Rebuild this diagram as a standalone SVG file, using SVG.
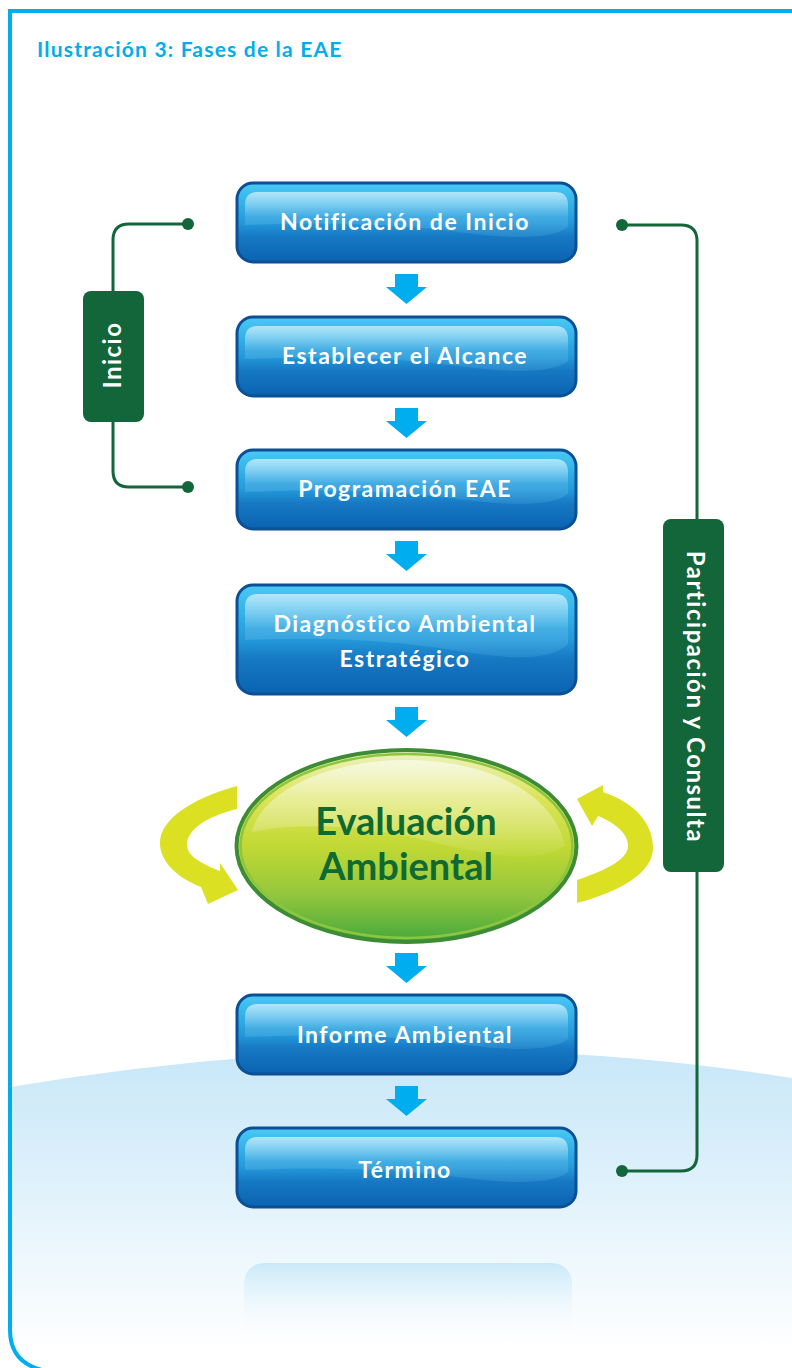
<svg xmlns="http://www.w3.org/2000/svg" xmlns:xlink="http://www.w3.org/1999/xlink" width="792" height="1368" viewBox="0 0 792 1368">
  <defs>
    <style>
      .title { font-family: Lato, "Open Sans", "Liberation Sans", sans-serif; font-weight: 700; font-size: 21px; letter-spacing: 1.2px; fill: #00aeef; }
      .btn-label { font-family: Lato, "Open Sans", "Liberation Sans", sans-serif; font-weight: 700; font-size: 23px; letter-spacing: 1.5px; fill: #ffffff; text-anchor: middle; }
      .side-label { font-family: Lato, "Open Sans", "Liberation Sans", sans-serif; font-weight: 700; font-size: 24px; letter-spacing: 1.5px; fill: #ffffff; text-anchor: middle; }
      .eval-label { font-family: Lato, "Open Sans", "Liberation Sans", sans-serif; font-weight: 700; font-size: 38px; fill: #0e6a32; text-anchor: middle; }
      .bracket { fill: none; stroke: #12663a; stroke-width: 3; }
      .bracket-dot { fill: #12663a; }
      .bracket-box { fill: #12663a; }
      .step-arrow { fill: #00aeef; }
      .cycle-arrow { fill: #dbe022; }
      .frame { fill: none; stroke: #00aeef; stroke-width: 4; }
    </style>
    <linearGradient id="groundFill" x1="0" y1="1050" x2="0" y2="1350" gradientUnits="userSpaceOnUse">
      <stop offset="0" stop-color="#c8e7f8"/>
      <stop offset="0.45" stop-color="#dff1fb"/>
      <stop offset="1" stop-color="#ffffff"/>
    </linearGradient>
    <linearGradient id="reflectFill" x1="0" y1="0" x2="0" y2="1">
      <stop offset="0" stop-color="#c9e9f8"/>
      <stop offset="1" stop-color="#ffffff" stop-opacity="0"/>
    </linearGradient>
    <linearGradient id="btnFill" x1="0" y1="0" x2="0" y2="1">
      <stop offset="0" stop-color="#4cc9f4"/>
      <stop offset="0.15" stop-color="#3bbcef"/>
      <stop offset="0.5" stop-color="#2399da"/>
      <stop offset="0.68" stop-color="#1678c3"/>
      <stop offset="1" stop-color="#0a63b0"/>
    </linearGradient>
    <linearGradient id="btnGloss" x1="0" y1="0" x2="0" y2="1">
      <stop offset="0" stop-color="#ffffff" stop-opacity="0.6"/>
      <stop offset="0.55" stop-color="#ffffff" stop-opacity="0.12"/>
      <stop offset="1" stop-color="#7fd6f7" stop-opacity="0.15"/>
    </linearGradient>
    <linearGradient id="evalFill" x1="0" y1="0" x2="0" y2="1">
      <stop offset="0" stop-color="#eef2c4"/>
      <stop offset="0.25" stop-color="#dbe45a"/>
      <stop offset="0.5" stop-color="#c2d934"/>
      <stop offset="0.75" stop-color="#94c73c"/>
      <stop offset="1" stop-color="#45a83d"/>
    </linearGradient>
    <linearGradient id="evalGloss" x1="0" y1="0" x2="0" y2="1">
      <stop offset="0" stop-color="#ffffff" stop-opacity="0.6"/>
      <stop offset="1" stop-color="#ffffff" stop-opacity="0.05"/>
    </linearGradient>

    <!-- standard 339x79 glossy button -->
    <g id="btn">
      <rect x="0" y="0" width="339" height="79" rx="16" fill="url(#btnFill)" stroke="#0b4f94" stroke-width="3"/>
      <path d="M8 42 L8 22 Q8 9 21 9 L318 9 Q331 9 331 22 L331 44 C315 56 280 56 230 50 C170 42 100 38 8 42 Z" fill="url(#btnGloss)"/>
    </g>

    <!-- downward step arrow, 41 wide x 30 tall -->
    <path id="stepArrow" d="M9 0 L32 0 L32 13 L41 13 L20.5 30 L0 13 L9 13 Z"/>
  </defs>

  <!-- pale ground at the bottom -->
  <path d="M10 1087 Q420 1018 792 1078 L792 1368 L10 1368 Z" fill="url(#groundFill)"/>
  <rect x="244" y="1263" width="328" height="78" rx="20" fill="url(#reflectFill)"/>

  <!-- outer frame -->
  <path class="frame" d="M792 11 L10 11 L10 1330 Q10 1362 42 1370"/>

  <text class="title" x="37" y="57">Ilustración 3: Fases de la EAE</text>

  <!-- connectors: step arrows and side brackets -->
  <g id="connectors">
    <use xlink:href="#stepArrow" class="step-arrow" x="386" y="274"/>
    <use xlink:href="#stepArrow" class="step-arrow" x="386" y="408"/>
    <use xlink:href="#stepArrow" class="step-arrow" x="386" y="541"/>
    <use xlink:href="#stepArrow" class="step-arrow" x="386" y="707"/>
    <use xlink:href="#stepArrow" class="step-arrow" x="386" y="953"/>
    <use xlink:href="#stepArrow" class="step-arrow" x="386" y="1086"/>

    <!-- Inicio bracket -->
    <path class="bracket" d="M188 224 L129 224 Q113 224 113 240 L113 292"/>
    <path class="bracket" d="M113 421 L113 471 Q113 487 129 487 L188 487"/>
    <circle class="bracket-dot" cx="188" cy="224" r="6"/>
    <circle class="bracket-dot" cx="188" cy="487" r="6"/>

    <!-- Participación y Consulta bracket -->
    <path class="bracket" d="M622 225 L681 225 Q697 225 697 241 L697 520"/>
    <path class="bracket" d="M697 871 L697 1155 Q697 1171 681 1171 L622 1171"/>
    <circle class="bracket-dot" cx="622" cy="225" r="6"/>
    <circle class="bracket-dot" cx="622" cy="1171" r="6"/>

    <!-- cycle arrows around the evaluation stage -->
    <path class="cycle-arrow" d="M237 786 C190 799 160 820 160 843 C160 862 178 878 201 887 L208 904 L238 890 L220 863 L220 871 C202 864 187 856 187 845 C187 830 205 817 237 809 Z"/>
    <path class="cycle-arrow" d="M577 880 C610 869 628 858 628 846 C628 833 615 823 598 816 L592 826 L577 799 L603 785 L603 792 C635 803 653 823 653 848 C653 872 622 891 577 903 Z"/>
  </g>

  <!-- side labels -->
  <g id="inicio">
    <rect class="bracket-box" x="83" y="291" width="61" height="131" rx="8"/>
    <text class="side-label" x="114" y="364" transform="rotate(-90 113 356)">Inicio</text>
  </g>
  <g id="participacion">
    <rect class="bracket-box" x="663" y="519" width="61" height="353" rx="8"/>
    <text class="side-label" x="696" y="704" transform="rotate(90 695 696)">Participación y Consulta</text>
  </g>

  <!-- process steps -->
  <g id="notificacion">
    <use xlink:href="#btn" x="237" y="183"/>
    <text class="btn-label" x="405" y="230">Notificación de Inicio</text>
  </g>
  <g id="alcance">
    <use xlink:href="#btn" x="237" y="317"/>
    <text class="btn-label" x="405" y="364">Establecer el Alcance</text>
  </g>
  <g id="programacion">
    <use xlink:href="#btn" x="237" y="450"/>
    <text class="btn-label" x="405" y="497">Programación EAE</text>
  </g>
  <g id="diagnostico">
    <rect x="237" y="585" width="339" height="109" rx="16" fill="url(#btnFill)" stroke="#0b4f94" stroke-width="3"/>
    <path d="M245 640 L245 607 Q245 594 258 594 L555 594 Q568 594 568 607 L568 644 C552 660 515 660 465 652 C405 642 337 636 245 640 Z" fill="url(#btnGloss)"/>
    <text class="btn-label" x="405" y="632">Diagnóstico Ambiental</text>
    <text class="btn-label" x="405" y="667">Estratégico</text>
  </g>
  <g id="evaluacion">
    <ellipse cx="406.5" cy="846" rx="170" ry="96" fill="url(#evalFill)" stroke="#3d8c35" stroke-width="4"/>
    <ellipse cx="406.5" cy="846" rx="166" ry="92" fill="none" stroke="#8cc63f" stroke-width="2.5"/>
    <path d="M252 832 C262 790 330 760 406 760 C490 760 555 795 565 846 C540 862 500 858 450 846 C380 828 310 820 252 832 Z" fill="url(#evalGloss)"/>
    <text class="eval-label" x="406" y="835">Evaluación</text>
    <text class="eval-label" x="406" y="880">Ambiental</text>
  </g>
  <g id="informe">
    <use xlink:href="#btn" x="237" y="995"/>
    <text class="btn-label" x="405" y="1043">Informe Ambiental</text>
  </g>
  <g id="termino">
    <use xlink:href="#btn" x="237" y="1128"/>
    <text class="btn-label" x="405" y="1178">Término</text>
  </g>
</svg>
